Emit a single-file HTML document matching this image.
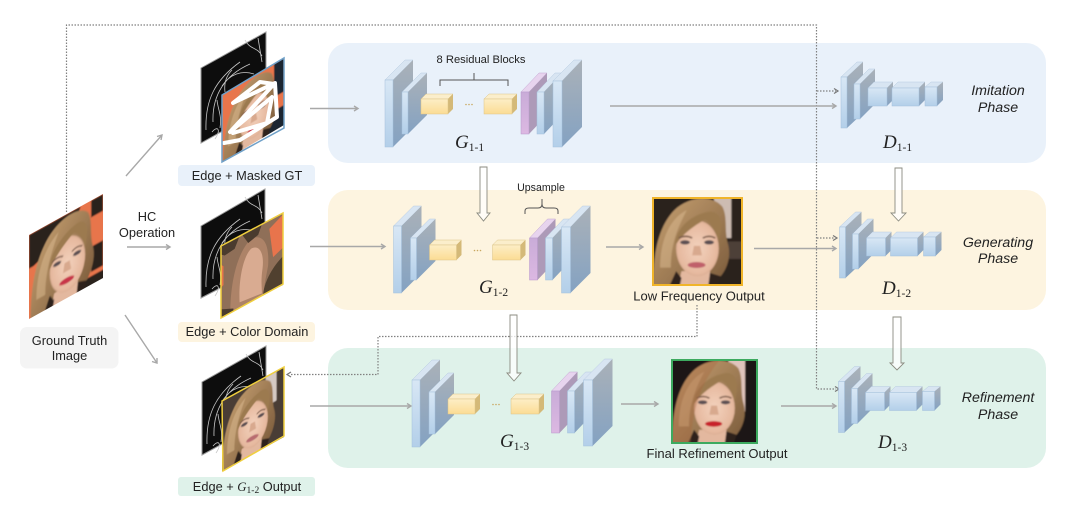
<!DOCTYPE html>
<html lang="en">
<head>
<meta charset="utf-8">
<title>Diagram</title>
<style>
html,body{margin:0;padding:0;background:#fff;width:1080px;height:509px;overflow:hidden}
svg{display:block}
text{font-family:"Liberation Sans",sans-serif;fill:#222;text-anchor:middle}
.t{font-size:12.8px}
.o{font-size:13px}
.s{font-size:11.2px}
.p{font-size:14.2px;font-style:italic}
.m{font-family:"Liberation Serif",serif;font-size:19px;font-style:italic;text-anchor:start}
.m tspan{font-size:11.5px;font-style:normal}
.a{fill:none;stroke:#a8a8a8;stroke-width:1.4}
.d{fill:none;stroke:#808080;stroke-width:1.2;stroke-dasharray:1.5 1.5}
.dh{fill:none;stroke:#777;stroke-width:1.2}
.ho{fill:#fff;fill-opacity:.75;stroke:#8b8b80;stroke-width:.9}
.bf{fill:url(#gf);stroke:#a3c0dc;stroke-width:.5}
.bt{fill:#d8e5f2;stroke:#b6cbe0;stroke-width:.5}
.bs{fill:url(#gs)}
.yf{fill:url(#gy);stroke:#dcc488;stroke-width:.5}
.yt{fill:#fbeecb;stroke:#dcc488;stroke-width:.5}
.ys{fill:#d4b978}
.pf{fill:url(#gp);stroke:#b897cc;stroke-width:.5}
.pt{fill:#e7d4ee;stroke:#c3a6d2;stroke-width:.5}
.ps{fill:#ad9ab8}
.br{fill:none;stroke:#555;stroke-width:1}
.e{fill:none;stroke:#c8c8c8;stroke-width:.8}
</style>
</head>
<body>
<svg width="1080" height="509" viewBox="0 0 1080 509" xmlns="http://www.w3.org/2000/svg">
<defs>
<linearGradient id="gf" x1="0" y1="0" x2="0" y2="1"><stop offset="0" stop-color="#d8e7f5"/><stop offset="1" stop-color="#b3cfe9"/></linearGradient>
<linearGradient id="gs" x1="0" y1="0" x2="0" y2="1"><stop offset="0" stop-color="#aab1b8"/><stop offset="1" stop-color="#84a2c2"/></linearGradient>
<linearGradient id="gh" x1="0" y1="0" x2="1" y2="1"><stop offset="0" stop-color="#c7a172"/><stop offset="1" stop-color="#7a5a3a"/></linearGradient>
<linearGradient id="gy" x1="0" y1="0" x2="0" y2="1"><stop offset="0" stop-color="#fdeec6"/><stop offset="1" stop-color="#fbdc94"/></linearGradient>
<linearGradient id="gp" x1="0" y1="0" x2="0" y2="1"><stop offset="0" stop-color="#c9acd8"/><stop offset="1" stop-color="#dcb8e2"/></linearGradient>
<radialGradient id="gk" cx=".5" cy=".5" r=".6"><stop offset="0" stop-color="#f3d2bd"/><stop offset=".75" stop-color="#e6b99f"/><stop offset="1" stop-color="#c99a7e"/></radialGradient>
<filter id="b" x="-10%" y="-10%" width="120%" height="120%"><feGaussianBlur stdDeviation=".9"/></filter>
<clipPath id="c"><rect x="0" y="0" width="100" height="100"/></clipPath>

<g id="fa">
<path fill="url(#gh)" d="M0 102C0 70 4 35 24 14C40 -2 66 -4 78 10C84 22 80 36 84 52C88 66 84 80 76 90L60 102Z"/>
<path fill="#d9b88e" opacity=".55" d="M8 80C8 50 18 24 38 14C30 30 20 50 20 80Z"/>
<path fill="#e3b89f" d="M32 84H64V102H28Z"/>
<path fill="#2f241f" d="M64 86L76 90L72 102H62ZM18 102L26 84L32 92L30 102Z"/>
<ellipse cx="50" cy="58" rx="24" ry="32" fill="url(#gk)"/>
<path fill="#9c7a50" d="M25 55C24 38 40 20 62 16C72 14 78 22 76 38L74 50C70 36 66 28 58 25C46 32 32 42 25 55Z"/>
<path fill="none" stroke="#7a5a48" stroke-width="1.800" d="M29 46Q37 42 44 46M56 46Q63 42 70 46"/>
<ellipse cx="36" cy="51" rx="5.500" ry="2.400" fill="#5b5052"/>
<ellipse cx="63" cy="51" rx="5.500" ry="2.400" fill="#5b5052"/>
<path fill="#d8a98e" d="M46 55L53 55L55 66L44 66Z"/>
<ellipse cx="49" cy="77" rx="10" ry="3.400" fill="currentColor"/>
</g>

<g id="edge">
<path class="e" d="M206 130C205 100 215 80 240 62M213 122C212 95 225 75 250 64M222 86C230 74 242 70 254 74M245 40C250 50 258 47 262 56M258 38L262 62M217 100C218 110 222 115 220 128M212 132C218 125 221 130 215 139M232 70C226 76 224 84 225 92"/>
</g>

<g id="gl">
<polygon class="bt" points="385,80 405,60 413,60 393,80"/>
<polygon class="bs" points="393,80 413,60 413,127 393,147"/>
<rect class="bf" x="385" y="80" width="8" height="67"/>
<polygon class="bt" points="402,92 421,73 427,73 408,92"/>
<polygon class="bs" points="408,92 427,73 427,115 408,134"/>
<rect class="bf" x="402" y="92" width="6" height="42"/>
<polygon class="yt" points="421,99 426,94 453,94 448,99"/>
<polygon class="ys" points="448,99 453,94 453,109 448,114"/>
<rect class="yf" x="421" y="99" width="27" height="15"/>
<polygon class="yt" points="484,99 489,94 517,94 512,99"/>
<polygon class="ys" points="512,99 517,94 517,109 512,114"/>
<rect class="yf" x="484" y="99" width="28" height="15"/>
<circle cx="466" cy="104.500" r=".8" fill="#c9a860"/><circle cx="469" cy="104.500" r=".8" fill="#c9a860"/><circle cx="472" cy="104.500" r=".8" fill="#c9a860"/>
</g>

<g id="gr">
<polygon class="pt" points="521,92 539,73 547,73 529,92"/>
<polygon class="ps" points="529,92 547,73 547,115 529,134"/>
<rect class="pf" x="521" y="92" width="8" height="42"/>
<polygon class="bt" points="537,92 555,73 562,73 544,92"/>
<polygon class="bs" points="544,92 562,73 562,115 544,134"/>
<rect class="bf" x="537" y="92" width="7" height="42"/>
<polygon class="bt" points="553,81 574,60 582,60 562,81"/>
<polygon class="bs" points="562,81 582,60 582,127 562,147"/>
<rect class="bf" x="553" y="81" width="9" height="66"/>
</g>

<g id="disc">
<polygon class="bt" points="841,77 857,62 863,62 847,77"/>
<polygon class="bs" points="847,77 863,62 863,113 847,128"/>
<rect class="bf" x="841" y="77" width="6" height="51"/>
<polygon class="bt" points="854,84 869,69 875,69 860,84"/>
<polygon class="bs" points="860,84 875,69 875,104 860,119"/>
<rect class="bf" x="854" y="84" width="6" height="35"/>
<polygon class="bt" points="868,88 874,82 893,82 887,88"/>
<polygon class="bs" points="887,88 893,82 893,100 887,106"/>
<rect class="bf" x="868" y="88" width="19" height="18"/>
<polygon class="bt" points="892,88 898,82 925,82 919,88"/>
<polygon class="bs" points="919,88 925,82 925,100 919,106"/>
<rect class="bf" x="892" y="88" width="27" height="18"/>
<polygon class="bt" points="925,87 931,82 943,82 937,87"/>
<polygon class="bs" points="937,87 943,82 943,100 937,106"/>
<rect class="bf" x="925" y="87" width="12" height="19"/>
</g>
</defs>

<!-- panels -->
<rect x="328" y="43" width="718" height="120" rx="20" fill="#e9f1fa"/>
<rect x="328" y="190" width="718" height="120" rx="20" fill="#fdf4e0"/>
<rect x="328" y="348" width="718" height="120" rx="20" fill="#dff2ea"/>

<!-- dotted connectors -->
<path class="d" d="M66.500 212V25H816.500V389H836"/>
<path class="d" d="M817 91H836M817 238H835"/>
<path class="d" d="M697 305V336.500H378V374.500H290"/>
<path class="dh" d="M834 88.500L838 91L834 93.500M833 235.500L837 238L833 240.500M835 386.500L839 389L835 391.500M291 372L287 374.500L291 377"/>

<!-- grey arrows -->
<path class="a" d="M126 176L162 135M127 247H170M125 315L157 363M310 108.500H358M310 246.500H385M310 406H411M610 106H836M606 247H643M754 248.500H836M621 404H658M781 406H836"/>
<path class="a" d="M157 136.500L162 135L161 140M166 244.500L170 247L166 249.500M152 361.500L157 363L157 358M354 106L358 108.500L354 111M381 244L385 246.500L381 249M407 403.500L411 406L407 408.500M832 103.500L836 106L832 108.500M639 244.500L643 247L639 249.500M832 246L836 248.500L832 251M654 401.500L658 404L654 406.500M832 403.500L836 406L832 408.500"/>

<!-- ground truth -->
<g transform="matrix(.74,-.41,0,.84,29,235)">
<g clip-path="url(#c)"><g filter="url(#b)">
<rect x="-3" y="-3" width="106" height="106" fill="#e8744c"/>
<path fill="#2a211e" d="M0 0H70L60 20L6 40L0 40ZM84 0H100V20H84ZM84 55H100V85H84ZM60 90H103V103H60Z"/>
<use href="#fa" x="2" y="2" style="color:#c8344a"/>
</g></g>
</g>

<!-- edge + masked -->
<polygon points="201,68 266,32 266,107 201,143" fill="#0d0d0d" stroke="#9a9a9a" stroke-width="1"/>
<use href="#edge"/>
<g transform="matrix(.62,-.37,0,.67,222,95)">
<g clip-path="url(#c)"><g filter="url(#b)">
<rect x="-3" y="-3" width="106" height="106" fill="#e8744c"/>
<path fill="#1d2530" d="M84 0H100V50H84ZM70 70H103V103H70Z"/>
<use href="#fa" x="2" y="2" style="color:#c8344a"/>
</g></g>
</g>
<path fill="none" stroke="#fff" stroke-width="4" stroke-linejoin="round" stroke-linecap="round" d="M224 143L240 140L277 117L275 83L233 103L260 82L274 84L230 132L272 97L267 123L233 133"/>
<polygon points="222,95 284,58 284,128 222,162" fill="none" stroke="#6fa0c8" stroke-width="1.500"/>

<!-- edge + color -->
<polygon points="201,226 265,189 265,265 201,298" fill="#0d0d0d" stroke="#9a9a9a" stroke-width="1"/>
<use href="#edge" x="0" y="157"/>
<g transform="matrix(.62,-.33,0,.72,221,246)">
<g clip-path="url(#c)">
<rect x="0" y="0" width="100" height="100" fill="#8f6f58"/>
<path fill="#ad8368" d="M15 100C15 60 25 20 50 12C70 15 78 35 76 62C72 80 68 90 70 100Z"/>
<path fill="#d9ab91" d="M30 92C28 60 36 30 49 26C62 26 70 42 67 62C64 78 66 88 66 96Z"/>
<path fill="#e8744c" d="M78 12L100 2V48L84 54Z"/>
<path fill="#e8744c" d="M0 26L4 30V56L0 58Z"/>
<path fill="#50402f" d="M68 98C70 80 85 66 100 60V100Z"/>
<path fill="#4a3b2e" d="M0 0H30L22 14L6 16L0 12ZM34 0H66L60 12L44 16ZM0 88L20 96V100H0Z"/>
</g>
</g>
<polygon points="221,246 283,213 283,284 221,318" fill="none" stroke="#f0cf3e" stroke-width="1.500"/>

<!-- edge + G1-2 -->
<polygon points="202,382 266,346 266,420 202,455" fill="#0d0d0d" stroke="#9a9a9a" stroke-width="1"/>
<use href="#edge" x="1" y="314"/>
<g transform="matrix(.62,-.34,0,.70,222,401)">
<g clip-path="url(#c)"><g filter="url(#b)">
<rect x="-3" y="-3" width="106" height="106" fill="#4a3c36"/>
<path fill="#d6cac4" d="M70 0H88V42H78Z"/>
<use href="#fa" style="color:#b86c70"/>
</g></g>
</g>
<polygon points="222,401 284,367 284,436 223,471" fill="none" stroke="#f0cf3e" stroke-width="1.500"/>

<!-- left labels -->
<rect x="178" y="165" width="137" height="21" rx="4" fill="#e9f1fa"/>
<text class="t" x="247" y="180">Edge + Masked GT</text>
<rect x="178" y="322" width="137" height="20" rx="4" fill="#fdf4e0"/>
<text class="t" x="247" y="336">Edge + Color Domain</text>
<rect x="178" y="477" width="137" height="19" rx="3" fill="#dff2ea"/>
<text class="t" x="247" y="491">Edge + <tspan font-family="Liberation Serif" font-style="italic">G</tspan><tspan font-family="Liberation Serif" font-size="9.500" dy="2">1-2</tspan><tspan dy="-2"> Output</tspan></text>
<rect x="20" y="327" width="98.500" height="41.500" rx="7" fill="#f4f4f4"/>
<text class="t" x="69.500" y="345">Ground Truth</text>
<text class="t" x="69.500" y="360">Image</text>
<text class="t" x="147" y="221">HC</text>
<text class="t" x="147" y="237">Operation</text>

<!-- generators -->
<use href="#gl"/>
<use href="#gr"/>
<use href="#gl" x="8.500" y="146"/>
<use href="#gr" x="8.500" y="146"/>
<use href="#gl" x="27" y="300"/>
<use href="#gr" x="30.500" y="299"/>

<path class="br" d="M440 86V80H508V86M474 80V73"/>
<text class="s" x="481" y="63">8 Residual Blocks</text>
<path class="br" d="M525 214V211Q525 208 529 208H538Q542 208 542 204V199M542 204Q542 208 546 208H554Q558 208 558 211V214"/>
<text class="s" x="541" y="191" style="font-size:10.600px">Upsample</text>

<text class="m" x="455" y="148">G<tspan dy="3">1-1</tspan></text>
<text class="m" x="479" y="293">G<tspan dy="3">1-2</tspan></text>
<text class="m" x="500" y="447">G<tspan dy="3">1-3</tspan></text>

<!-- discriminators -->
<use href="#disc"/>
<use href="#disc" x="-1.500" y="150"/>
<use href="#disc" x="-2.500" y="304.500"/>
<text class="m" x="883" y="148">D<tspan dy="3">1-1</tspan></text>
<text class="m" x="882" y="294">D<tspan dy="3">1-2</tspan></text>
<text class="m" x="878" y="448">D<tspan dy="3">1-3</tspan></text>

<!-- hollow arrows -->
<polygon class="ho" points="480,167 487,167 487,213 490,213 483.500,221 477,213 480,213"/>
<polygon class="ho" points="510,315 517,315 517,373 521,373 514,381 507,373 510,373"/>
<polygon class="ho" points="895,168 902,168 902,213 906,213 898.500,221 891,213 895,213"/>
<polygon class="ho" points="893,317 901,317 901,363 904,363 897,370 890,363 893,363"/>

<!-- low frequency output -->
<svg x="653" y="198" width="89" height="87" viewBox="0 0 100 100" preserveAspectRatio="none">
<g filter="url(#b)">
<rect x="-3" y="-3" width="106" height="106" fill="#2b211c"/>
<path fill="#cdbcb2" d="M68 0H88V46H80Z"/>
<path fill="#4e3f38" d="M84 50H100V70H84Z"/>
<use href="#fa" style="color:#c0606a"/>
</g>
</svg>
<rect x="653" y="198" width="89" height="87" fill="none" stroke="#f0b429" stroke-width="2"/>
<text class="o" x="699" y="300.500">Low Frequency Output</text>

<!-- final refinement output -->
<svg x="672" y="360" width="85" height="83" viewBox="0 0 100 100" preserveAspectRatio="none">
<g filter="url(#b)">
<rect x="-3" y="-3" width="106" height="106" fill="#1e1614"/>
<path fill="#e0c4bc" d="M66 0H86V62H78Z"/>
<use href="#fa" style="color:#c8202c"/>
<path fill="#a8643c" opacity=".35" d="M0 102C0 70 4 35 24 14C34 4 46 0 56 0C40 20 24 50 22 102Z"/>
</g>
</svg>
<rect x="672" y="360" width="85" height="83" fill="none" stroke="#3daa5f" stroke-width="2"/>
<text class="o" x="717" y="458">Final Refinement Output</text>

<!-- phase labels -->
<text class="p" x="998" y="95">Imitation</text>
<text class="p" x="998" y="112">Phase</text>
<text class="p" x="998" y="247">Generating</text>
<text class="p" x="998" y="263">Phase</text>
<text class="p" x="998" y="402">Refinement</text>
<text class="p" x="998" y="419">Phase</text>
</svg>
</body>
</html>
